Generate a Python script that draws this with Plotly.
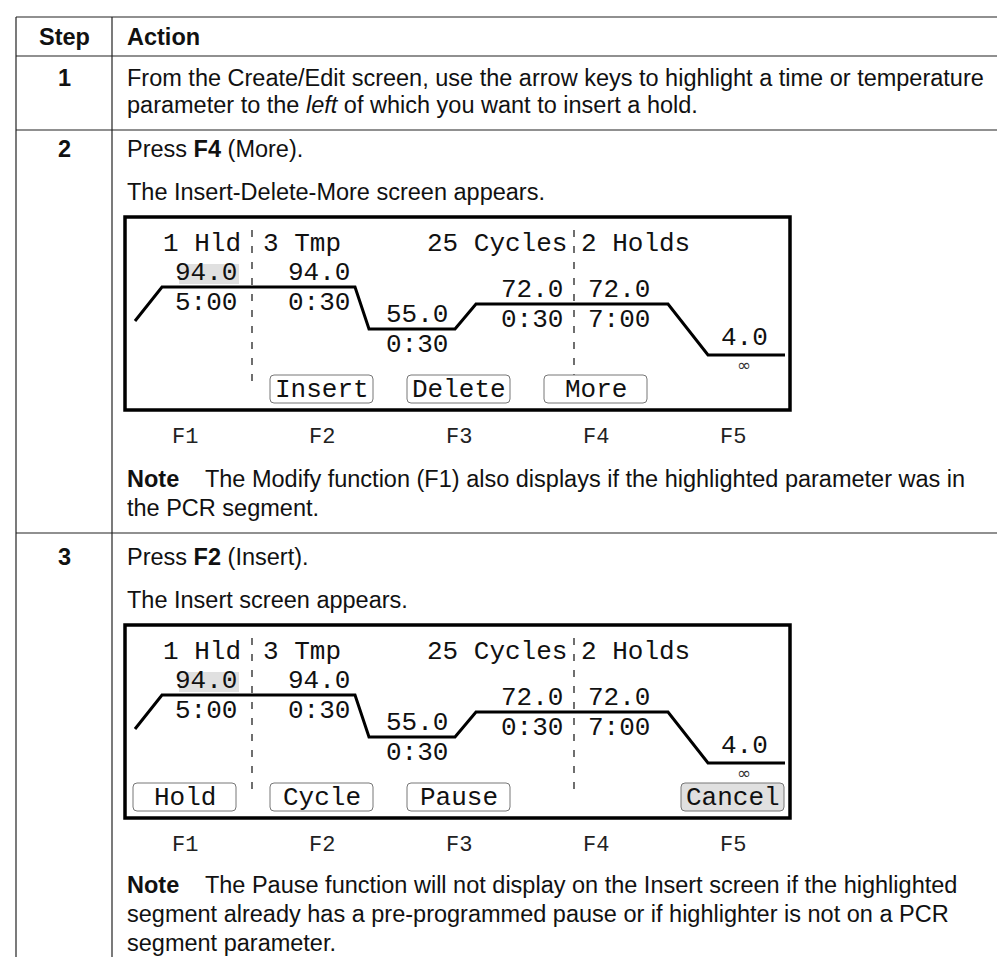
import plotly.graph_objects as go

# ---------------- data ----------------
header = ["Step", "Action"]
step_numbers = ["1", "2", "3"]
step1_lines = ["From the Create/Edit screen, use the arrow keys to highlight a time or temperature",
               "parameter to the <i>left</i> of which you want to insert a hold."]
step2_lines = ["Press <b>F4</b> (More).", "The Insert-Delete-More screen appears."]
step2_note = ["<b>Note</b>\u00a0\u00a0\u00a0 The Modify function (F1) also displays if the highlighted parameter was in",
              "the PCR segment."]
step3_lines = ["Press <b>F2</b> (Insert).", "The Insert screen appears."]
step3_note = ["<b>Note</b>\u00a0\u00a0\u00a0 The Pause function will not display on the Insert screen if the highlighted",
              "segment already has a pre-programmed pause or if highlighter is not on a PCR",
              "segment parameter."]

segment_titles = ["1 Hld", "3 Tmp", "25 Cycles", "2 Holds"]
temps = [94.0, 94.0, 55.0, 72.0, 72.0, 4.0]
times = ["5:00", "0:30", "0:30", "0:30", "7:00", "\u221e"]
fkeys = ["F1", "F2", "F3", "F4", "F5"]
screen1_buttons = ["", "Insert", "Delete", "More", ""]
screen2_buttons = ["Hold", "Cycle", "Pause", "", "Cancel"]

# ---------------- layout constants (pixels) ----------------
W, H = 1005, 957
SANS = "Liberation Sans, Arial, Helvetica, sans-serif"
MONO = "Liberation Mono, Courier New, monospace"
BODY = 23.5
MONO_SZ = 26
X_LEFT, X_DIV, TEXT_X = 8, 104, 117
ROW_LINES = [9, 48, 122, 525]

# schematic profile geometry inside a screen (relative to box top)
BOX_H = 193
LEVEL = {94.0: 70, 72.0: 87, 55.0: 112, 4.0: 138}
RAMP_START = (127, 104)
SEG_X = [(154, 347), (347, 361), (361, 447), (447, 468), (468, 660), (660, 700), (700, 777)]
TEMP_X = [(231, "right"), (278, "left"), (376, "left"), (491, "left"), (578, "left"), (711, "left")]
TITLE_X = [153, 253, 417, 571]
DASH_X = [244, 566]
BTN_X0 = [125, 262, 399, 536, 673]
BTN_W = 103

fig = go.Figure()
shapes = []
ann = []


def text(x, y, s, size=BODY, family=SANS, xanchor="left", color="#111", height=None):
    a = dict(x=x, y=y, text=s, showarrow=False, xanchor=xanchor, yanchor="middle",
             font=dict(family=family, size=size, color=color), xref="x", yref="y")
    if height:
        a["height"] = height
    ann.append(a)


def line(x0, y0, x1, y1, width=1.2, color="#222", dash=None):
    d = dict(type="line", x0=x0, y0=y0, x1=x1, y1=y1, xref="x", yref="y",
             line=dict(color=color, width=width))
    if dash:
        d["line"]["dash"] = dash
    shapes.append(d)


def rrect(x0, y0, x1, y1, r=4):
    return (f"M{x0+r},{y0} L{x1-r},{y0} Q{x1},{y0} {x1},{y0+r} L{x1},{y1-r} "
            f"Q{x1},{y1} {x1-r},{y1} L{x0+r},{y1} Q{x0},{y1} {x0},{y1-r} "
            f"L{x0},{y0+r} Q{x0},{y0} {x0+r},{y0} Z")


# table grid
for y in ROW_LINES:
    line(X_LEFT, y, W, y)
line(X_LEFT, ROW_LINES[0], X_LEFT, H)
line(X_DIV, ROW_LINES[0], X_DIV, H)

STEP_CX = (X_LEFT + X_DIV) / 2
text(STEP_CX, 29, "<b>%s</b>" % header[0], xanchor="center")
text(TEXT_X, 29, "<b>%s</b>" % header[1])

# step 1
text(STEP_CX, 70, "<b>%s</b>" % step_numbers[0], xanchor="center")
for i, s in enumerate(step1_lines):
    text(TEXT_X, 70 + 27 * i, s)

# step 2
text(STEP_CX, 141, "<b>%s</b>" % step_numbers[1], xanchor="center")
text(TEXT_X, 141, step2_lines[0])
text(TEXT_X, 184, step2_lines[1])
for i, s in enumerate(step2_note):
    text(TEXT_X, 471 + 29 * i, s)

# step 3
text(STEP_CX, 549, "<b>%s</b>" % step_numbers[2], xanchor="center")
text(TEXT_X, 549, step3_lines[0])
text(TEXT_X, 592, step3_lines[1])
for i, s in enumerate(step3_note):
    text(TEXT_X, 877 + 29 * i, s)


def draw_screen(top, buttons, highlight_btn=None):
    bottom = top + BOX_H
    shapes.append(dict(type="rect", x0=117, x1=782, y0=top, y1=bottom, xref="x", yref="y",
                       line=dict(color="black", width=3.5), fillcolor="rgba(0,0,0,0)"))
    # dashed separators
    for dx in DASH_X:
        line(dx, top + 13, dx, top + 170, width=1.3, color="#222", dash="7px,9px")
    # highlight behind first temperature
    shapes.append(dict(type="rect", x0=171, x1=231, y0=top + 47, y1=top + 67, xref="x", yref="y",
                       line=dict(width=0), fillcolor="#e0e0e0", layer="below"))
    # titles
    for tx, t in zip(TITLE_X, segment_titles):
        text(tx, top + 27, t, size=MONO_SZ, family=MONO)
    # profile line built from temperatures: ramp, 94 plateau, ramp, 55, ramp, 72, ramp, 4
    xs = [RAMP_START[0]]
    ys = [top + RAMP_START[1]]
    seq = [temps[1], None, temps[2], None, temps[4], None, temps[5]]
    for (x0, x1), t in zip(SEG_X, seq):
        if t is not None:
            xs += [x0, x1]
            ys += [top + LEVEL[t], top + LEVEL[t]]
    fig.add_trace(go.Scatter(x=xs, y=ys, mode="lines", line=dict(color="black", width=3),
                             hoverinfo="skip", showlegend=False))
    # temperatures and times
    for (tx, anc), t, tm in zip(TEMP_X, temps, times):
        lv = top + LEVEL[t]
        if tm == "\u221e":
            text(tx, lv - 17, "%.1f" % t, size=MONO_SZ, family=MONO, xanchor=anc, height=26)
            text(tx + 25, lv + 9.5, tm, size=17, family="DejaVu Sans", xanchor="center",
                 color="#333", height=14)
        else:
            text(tx, lv - 14, "%.1f" % t, size=MONO_SZ, family=MONO, xanchor=anc)
            text(tx, lv + 16, tm, size=MONO_SZ, family=MONO, xanchor=anc)
    # buttons
    for i, b in enumerate(buttons):
        if not b:
            continue
        x0 = BTN_X0[i]
        fill = "#e0e0e0" if i == highlight_btn else "white"
        shapes.append(dict(type="path", path=rrect(x0, top + 158, x0 + BTN_W, top + 186),
                           xref="x", yref="y", line=dict(color="#777", width=1), fillcolor=fill))
        text(x0 + BTN_W / 2, top + 172.5, b, size=MONO_SZ, family=MONO, xanchor="center", height=26)
    # F-key labels
    for i, f in enumerate(fkeys):
        text(BTN_X0[i] + BTN_W / 2, bottom + 27, f, size=22, family=MONO, xanchor="center", color="#222")


draw_screen(209, screen1_buttons)
draw_screen(617, screen2_buttons, highlight_btn=4)

fig.update_layout(
    width=W, height=H, margin=dict(l=0, r=0, t=0, b=0),
    paper_bgcolor="white", plot_bgcolor="white",
    xaxis=dict(range=[0, W], visible=False, fixedrange=True),
    yaxis=dict(range=[H, 0], visible=False, fixedrange=True),
    shapes=shapes, annotations=ann, showlegend=False,
)
fig.write_html("out.html")
